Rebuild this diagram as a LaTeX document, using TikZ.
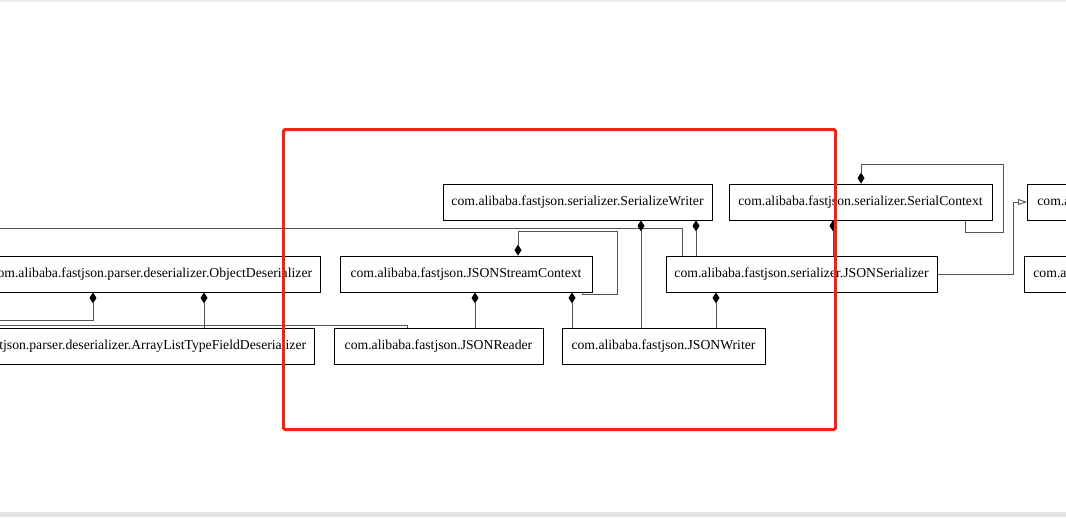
\documentclass[tikz,border=0pt]{standalone}
\usepackage{fontspec}
\setmainfont{Liberation Serif}
\usetikzlibrary{arrows.meta}
\definecolor{markred}{RGB}{250,32,20}
\definecolor{edgegray}{RGB}{85,85,85}

\begin{document}
\begin{tikzpicture}[x=1pt,y=-1pt]
            \tikzstyle{every node}=[draw=black, line width=0.8pt, minimum height=36pt, inner xsep=8.5pt, inner ysep=0pt, font=\fontsize{13.7}{16}\selectfont, text=black, fill=white]
            \tikzstyle{comp}=[edgegray, line width=0.9pt, {Diamond[length=11pt,width=7pt,color=black]}-]
            \tikzstyle{inherit}=[edgegray, line width=0.9pt, -{Triangle[open,length=9pt,width=6pt]}]
            \tikzstyle{plain}=[edgegray, line width=0.9pt]

            \useasboundingbox (0,0) rectangle (1066,517);
            \fill[white] (0,0) rectangle (1066,517);
            \fill[black!7] (0,0) rectangle (1066,1.5);
            \fill[black!10] (0,512) rectangle (1066,517);
            \clip (0,1.5) rectangle (1066,512);

            % classes
            \node[minimum width=269pt] (sw) at (577.5,202) {com.alibaba.fastjson.serializer.SerializeWriter};
            \node[minimum width=263pt] (sc) at (860.5,202) {com.alibaba.fastjson.serializer.SerialContext};
            \node[anchor=west, inner xsep=10pt, text width=160pt, align=left] (sf) at (1027,202) {com.a};
            \node[anchor=east] (od) at (321,274) {com.alibaba.fastjson.parser.deserializer.ObjectDeserializer};
            \node[minimum width=252pt] (jsc) at (466,274) {com.alibaba.fastjson.JSONStreamContext};
            \node[minimum width=271pt] (jss) at (801.5,274) {com.alibaba.fastjson.serializer.JSONSerializer};
            \node[anchor=west, inner xsep=9pt, text width=160pt, align=left] (rb) at (1024,274) {com.a};
            \node[anchor=east] (al) at (315,346) {com.alibaba.fastjson.parser.deserializer.ArrayListTypeFieldDeserializer};
            \node[minimum width=209pt] (jr) at (438.5,346) {com.alibaba.fastjson.JSONReader};
            \node[minimum width=203pt] (jw) at (663.5,346) {com.alibaba.fastjson.JSONWriter};

            % free ends at the left border
            \coordinate (l1) at (-5,228);
            \coordinate (l2) at (-5,320);
            \coordinate (l3) at (-5,325.5);
            \coordinate (l3end) at (407,328);

            % connectors
            \draw[plain] (l1) -| (682,0 |- jss.north);
            \draw[comp] (641,0 |- sw.south) -- (641,0 |- jw.north);
            \draw[comp] (696,0 |- sw.south) -- (696,0 |- jss.north);
            \draw[comp] (833,0 |- sc.south) -- (833,0 |- jss.north);
            \draw[comp] (861,0 |- sc.north) |- (1003,164) |- (965,232) -- (965,0 |- sc.south);
            \draw[inherit] (jss.east) -| (1013,202) -- (sf.west);
            \draw[comp] (716,0 |- jss.south) -- (716,0 |- jw.north);
            \draw[comp] (518,0 |- jsc.north) |- (617,231) |- (582,294) -- (582,0 |- jsc.south);
            \draw[comp] (475,0 |- jsc.south) -- (475,0 |- jr.north);
            \draw[comp] (572,0 |- jsc.south) -- (572,0 |- jw.north);
            \draw[comp] (93,0 |- od.south) |- (l2);
            \draw[comp] (204,0 |- od.south) -- (204,0 |- al.north);
            \draw[plain] (l3) -| (l3end);

            % marked region
            \draw[markred, line width=3pt, rounded corners=1.5pt] (283.5,129.5) rectangle (835.5,429.5);
          \end{tikzpicture}
\end{document}
